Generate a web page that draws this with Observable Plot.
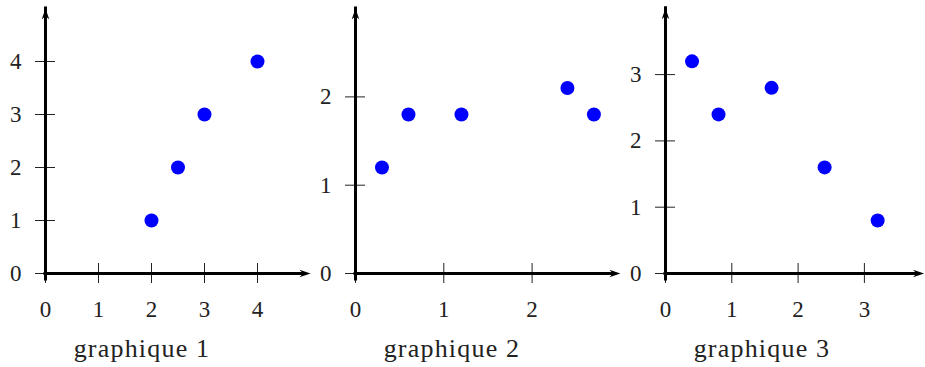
<!DOCTYPE html>
<html>
<head>
<meta charset="utf-8">
<script src="https://cdn.jsdelivr.net/npm/d3@7"></script>
<script src="https://cdn.jsdelivr.net/npm/@observablehq/plot@0.6"></script>
<style>
  html, body { margin: 0; padding: 0; background: white; font-family: "Liberation Serif", "DejaVu Serif", serif; }
  #root { position: relative; width: 925px; height: 367px; overflow: hidden; }
  .panel { position: absolute; top: 0; }
  .caption { position: absolute; width: 220px; text-align: center; font-family: "Liberation Serif", "DejaVu Serif", serif; font-size: 26px; line-height: 26px; letter-spacing: 1.2px; color: #222; }
</style>
</head>
<body>
<div id="root"></div>
<script>
// ---- data ----
const captions = ["graphique 1", "graphique 2", "graphique 3"];

const panel1X = [2, 2.5, 3, 4];
const panel1Y = [1, 2, 3, 4];
const panel1XTicks = [0, 1, 2, 3, 4];
const panel1YTicks = [0, 1, 2, 3, 4];
const panel1Extent = [5, 5];

const panel2X = [0.3, 0.6, 1.2, 2.4, 2.7];
const panel2Y = [1.2, 1.8, 1.8, 2.1, 1.8];
const panel2XTicks = [0, 1, 2];
const panel2YTicks = [0, 1, 2];
const panel2Extent = [3, 3];

const panel3X = [0.4, 0.8, 1.6, 2.4, 3.2];
const panel3Y = [3.2, 2.4, 2.8, 1.6, 0.8];
const panel3XTicks = [0, 1, 2, 3];
const panel3YTicks = [0, 1, 2, 3];
const panel3Extent = [3.9, 4];

// ---- layout ----
const svgHeight = 330;
const originY = 273;
const layout = [
  {left: 0,   width: 315, originX: 45,  k: 53},
  {left: 315, width: 310, originX: 355, k: 88.3},
  {left: 625, width: 300, originX: 665, k: 66.3}
];

const panels = [
  {xs: panel1X, ys: panel1Y, xt: panel1XTicks, yt: panel1YTicks, ext: panel1Extent},
  {xs: panel2X, ys: panel2Y, xt: panel2XTicks, yt: panel2YTicks, ext: panel2Extent},
  {xs: panel3X, ys: panel3Y, xt: panel3XTicks, yt: panel3YTicks, ext: panel3Extent}
];

// stealth-like arrow head, tip at origin, pointing up
const stealth = {
  draw(ctx) {
    ctx.moveTo(0, 0);
    ctx.lineTo(3.8, 11);
    ctx.lineTo(0, 7.5);
    ctx.lineTo(-3.8, 11);
    ctx.closePath();
  }
};

const root = document.getElementById("root");
const serif = "'Liberation Serif', 'DejaVu Serif', serif";

panels.forEach((p, i) => {
  const L = layout[i];
  const [xmax, ymax] = p.ext;
  const marginLeft = L.originX - L.left;
  const marginRight = L.width - marginLeft - xmax * L.k;
  const marginTop = originY - ymax * L.k;
  const marginBottom = svgHeight - originY;
  const pts = p.xs.map((x, j) => ({x, y: p.ys[j]}));

  const chart = Plot.plot({
    width: L.width,
    height: svgHeight,
    marginLeft, marginRight, marginTop, marginBottom,
    x: {domain: [0, xmax], label: null},
    y: {domain: [0, ymax], label: null},
    style: {fontFamily: serif, fontSize: "23px", color: "#222", background: "transparent", overflow: "visible"},
    marks: [
      Plot.axisX({ticks: p.xt, tickSize: 20, dy: -10, tickPadding: 17, tickFormat: d => String(d), label: null, stroke: "#222", strokeWidth: 1, fill: "#222"}),
      Plot.axisY({ticks: p.yt, tickSize: 20, dx: 10, tickPadding: 14, tickFormat: d => String(d), label: null, stroke: "#222", strokeWidth: 1, fill: "#222"}),
      Plot.ruleY([0], {x1: 0, x2: xmax, stroke: "black", strokeWidth: 3, strokeLinecap: "square", insetRight: 6}),
      Plot.ruleX([0], {y1: 0, y2: ymax, stroke: "black", strokeWidth: 3, strokeLinecap: "square", insetTop: 6}),
      Plot.dot([0], {x: 0, y: ymax, symbol: stealth, r: 1, fill: "black"}),
      Plot.dot([0], {x: xmax, y: 0, symbol: stealth, r: 1, fill: "black", rotate: 90}),
      Plot.dot(pts, {x: "x", y: "y", r: 7, fill: "#0000ff"})
    ]
  });
  const wrap = document.createElement("div");
  wrap.className = "panel";
  wrap.style.left = L.left + "px";
  wrap.style.width = L.width + "px";
  wrap.appendChild(chart);
  root.appendChild(wrap);

  const cap = document.createElement("div");
  cap.className = "caption";
  cap.textContent = captions[i];
  cap.style.left = (L.originX + 97 - 110) + "px";
  cap.style.top = "336px";
  root.appendChild(cap);
});
</script>
</body>
</html>
